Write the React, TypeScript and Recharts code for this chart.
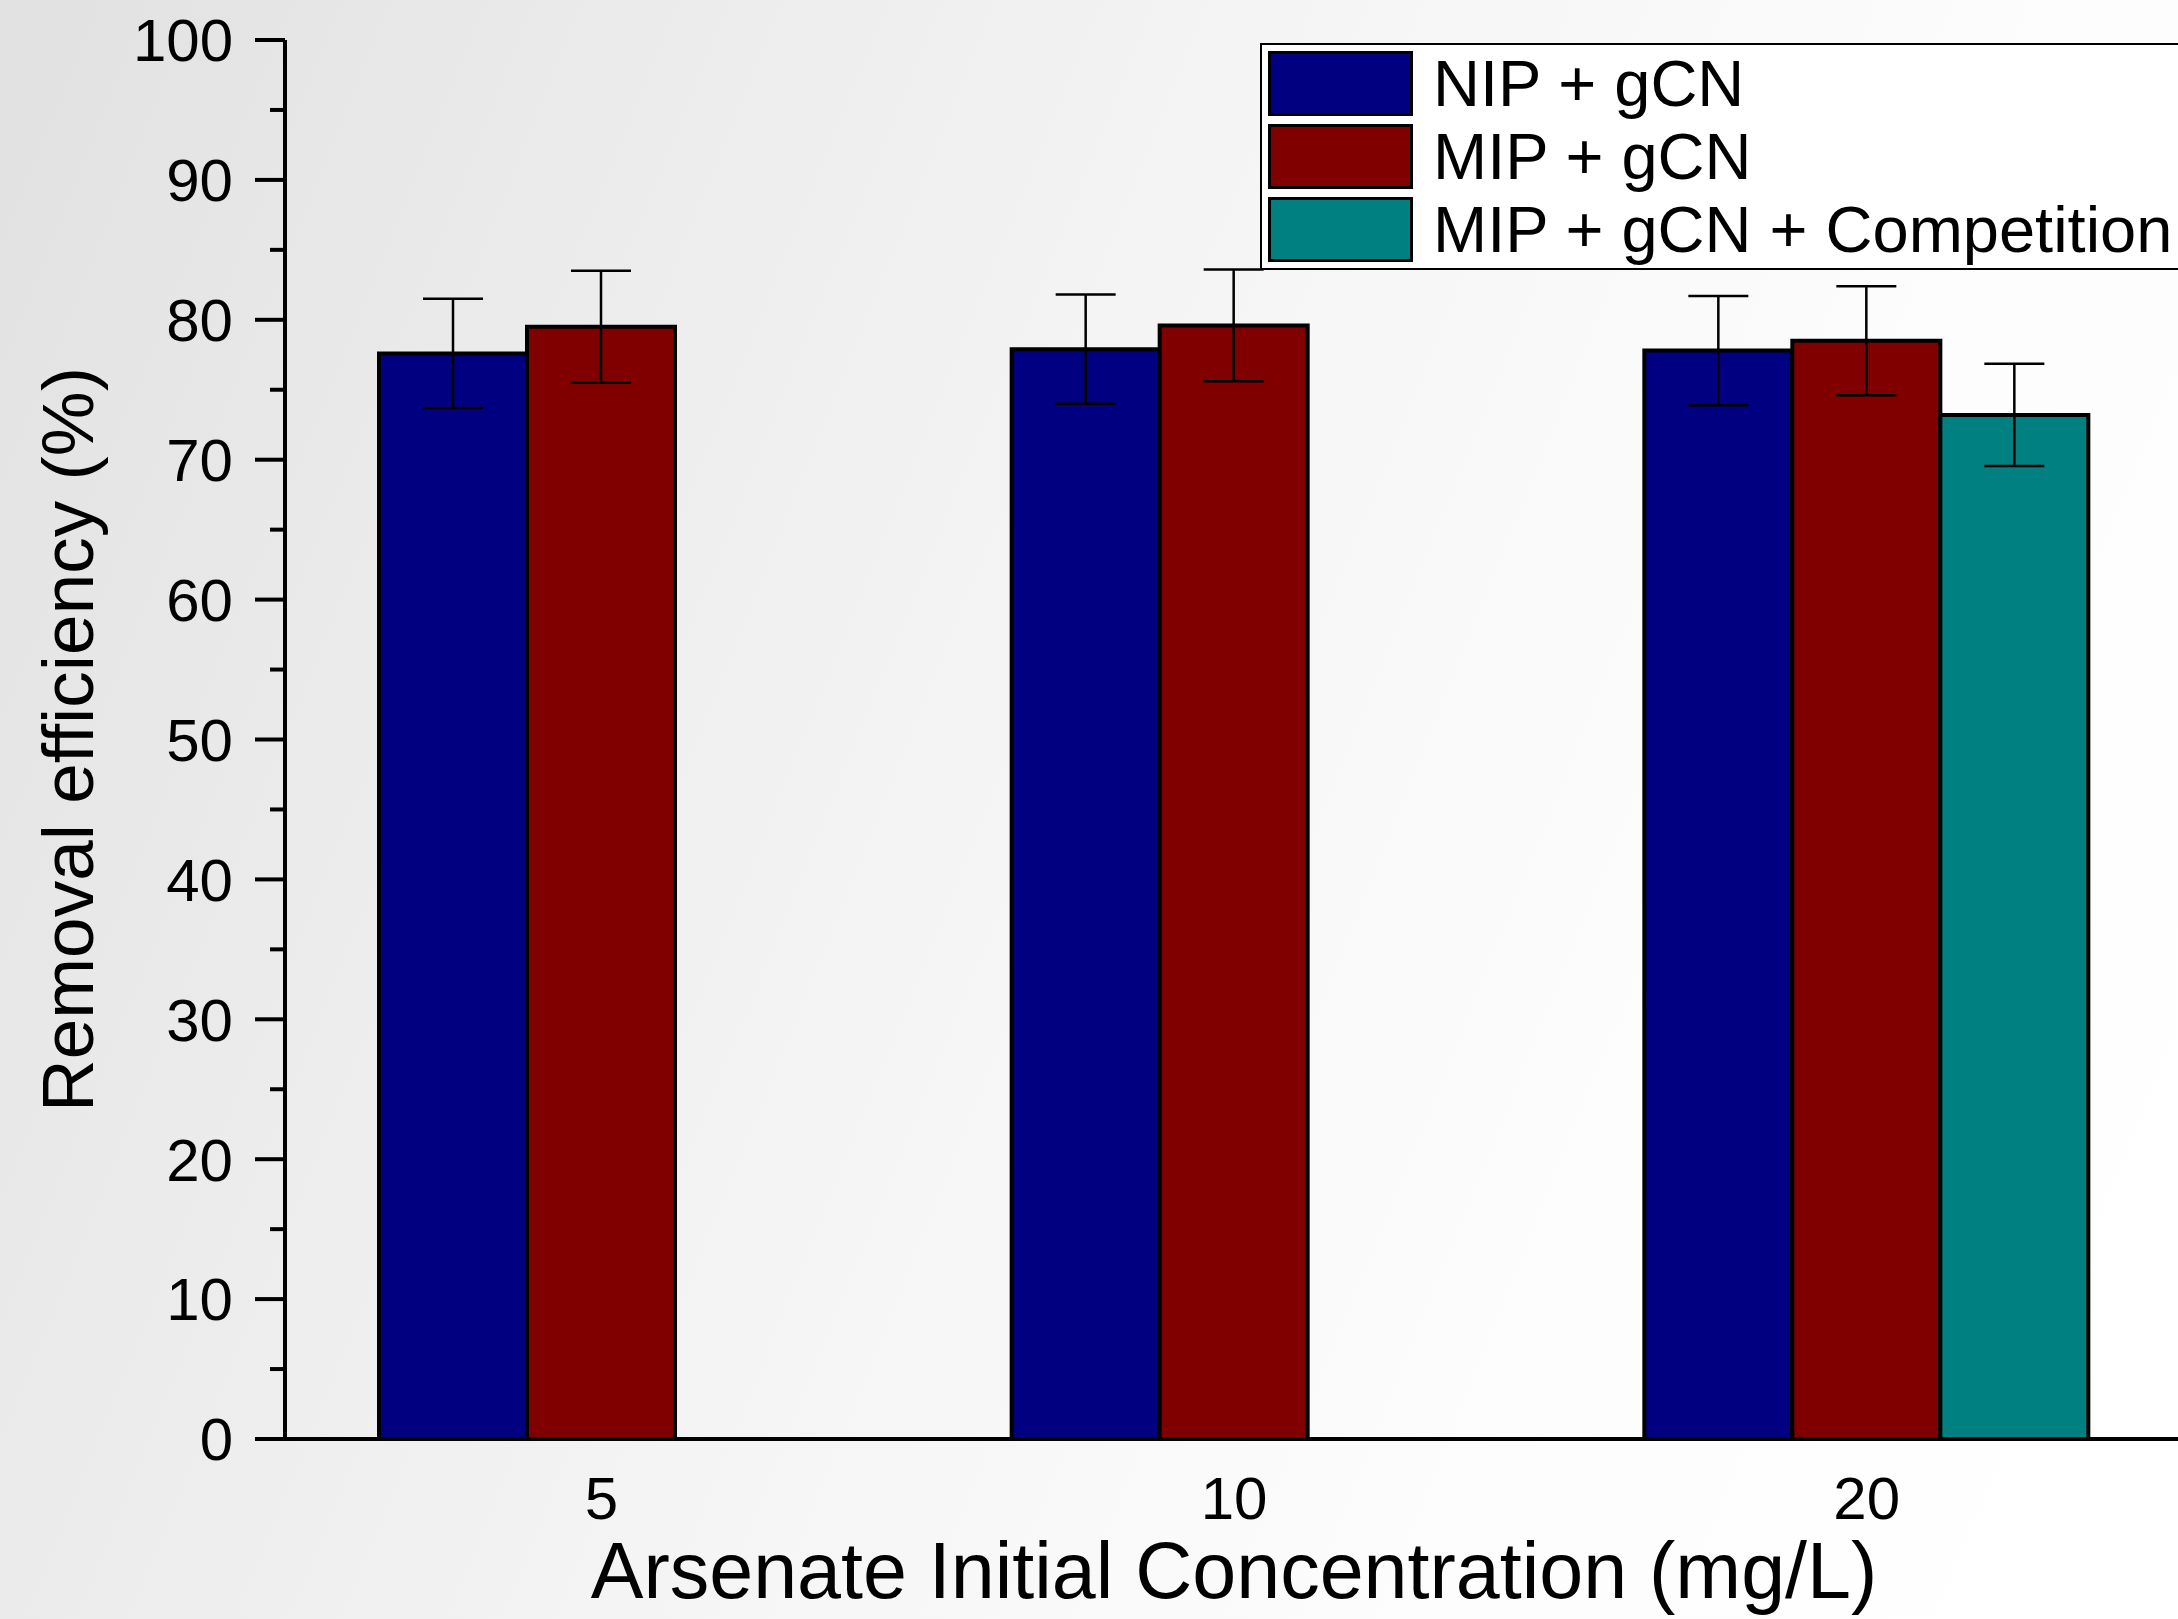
import React from 'react';
import {
  BarChart,
  Bar,
  XAxis,
  YAxis,
  ErrorBar,
  Legend,
} from 'recharts';

const concentrations = ['5', '10', '20'];
const seriesNames = ['NIP + gCN', 'MIP + gCN', 'MIP + gCN + Competition'];
const nipGcn = [77.6, 77.9, 77.8];
const nipGcnErr = [3.9, 3.9, 3.9];
const mipGcn = [79.5, 79.6, 78.5];
const mipGcnErr = [4.0, 4.0, 3.9];
const mipGcnComp = [null, null, 73.2];
const mipGcnCompErr = [null, null, 3.65];

const yTicks = [0, 5, 10, 15, 20, 25, 30, 35, 40, 45, 50, 55, 60, 65, 70, 75, 80, 85, 90, 95, 100];

const FONT = '"Liberation Sans", Arial, Helvetica, sans-serif';
const TICK_SIZE = 30;
const TICK_MARGIN = 22;

const data = concentrations.map((c, i) => ({
  conc: c,
  nip: nipGcn[i],
  nipErr: nipGcnErr[i],
  mip: mipGcn[i],
  mipErr: mipGcnErr[i],
  comp: mipGcnComp[i],
  compErr: mipGcnCompErr[i],
}));

function YTick(props: any) {
  const { x, y, payload } = props;
  const v = payload.value;
  const major = v % 10 === 0;
  const axisX = x + TICK_SIZE + TICK_MARGIN;
  return (
    <g>
      <line
        x1={axisX - (major ? TICK_SIZE : 15)}
        x2={axisX}
        y1={y}
        y2={y}
        stroke='#000'
        strokeWidth={4}
      />
      {major && (
        <text
          x={x}
          y={y}
          dy='0.355em'
          textAnchor='end'
          fill='#000'
          fontSize={60}
          fontFamily={FONT}
        >
          {v}
        </text>
      )}
    </g>
  );
}

function LegendBox(props: any) {
  // keep the series order, not the alphabetical one
  const items = [...(props.payload || [])].sort(
    (a: any, b: any) => seriesNames.indexOf(a.value) - seriesNames.indexOf(b.value)
  );
  return (
    <div
      style={{
        width: 950,
        height: 227,
        background: '#fff',
        border: '2px solid #000',
        boxSizing: 'border-box',
        paddingTop: 6,
        paddingLeft: 6,
      }}
    >
      {items.map((p: any) => (
        <div
          key={p.value}
          style={{
            display: 'flex',
            alignItems: 'center',
            height: 65,
            marginBottom: 8,
          }}
        >
          <div
            style={{
              width: 145,
              height: 65,
              background: p.color,
              border: '3px solid #000',
              boxSizing: 'border-box',
            }}
          />
          <span
            style={{
              marginLeft: 20,
              fontSize: 65,
              fontFamily: FONT,
              color: '#000',
              lineHeight: '65px',
              whiteSpace: 'nowrap',
            }}
          >
            {p.value}
          </span>
        </div>
      ))}
    </div>
  );
}

export default function App() {
  return (
    <div
      style={{
        position: 'absolute',
        left: 0,
        top: 0,
        width: 2178,
        height: 1619,
        overflow: 'hidden',
        background:
          'linear-gradient(112deg, #e1e1e1 0%, #ececec 25%, #f6f6f6 50%, #fdfdfd 75%, #ffffff 100%)',
      }}
    >
      <BarChart
        width={2200}
        height={1619}
        data={data}
        margin={{ top: 40, right: 17, left: 0, bottom: 0 }}
        barSize={148}
        barGap={0}
      >
        <XAxis
          dataKey='conc'
          height={180}
          axisLine={{ stroke: '#000', strokeWidth: 4 }}
          tickLine={false}
          tickSize={0}
          tickMargin={37}
          tick={{ fill: '#000', fontSize: 60, fontFamily: FONT }}
          label={{
            value: 'Arsenate Initial Concentration (mg/L)',
            position: 'insideBottom',
            offset: 21,
            fill: '#000',
            fontSize: 79,
            fontFamily: FONT,
          }}
        />
        <XAxis
          xAxisId='top'
          dataKey='conc'
          orientation='top'
          height={0}
          axisLine={{ stroke: '#000', strokeWidth: 4 }}
          tickLine={false}
          tick={false}
        />
        <YAxis
          width={285}
          domain={[0, 100]}
          ticks={yTicks}
          interval={0}
          allowDataOverflow
          axisLine={{ stroke: '#000', strokeWidth: 4 }}
          tickLine={false}
          tickSize={TICK_SIZE}
          tickMargin={TICK_MARGIN}
          tick={<YTick />}
          label={{
            value: 'Removal efficiency (%)',
            angle: -90,
            position: 'insideLeft',
            offset: 67,
            fill: '#000',
            fontSize: 73,
            fontFamily: FONT,
            style: { textAnchor: 'middle' },
          }}
        />
        <Legend
          layout='vertical'
          align='center'
          verticalAlign='middle'
          content={<LegendBox />}
          wrapperStyle={{ left: 1260, top: 43, width: 950, height: 227 }}
        />
        <Bar
          dataKey='nip'
          name={seriesNames[0]}
          fill='#000080'
          stroke='#000'
          strokeWidth={4}
          isAnimationActive={false}
        >
          <ErrorBar dataKey='nipErr' width={30} stroke='#000' strokeWidth={2.5} />
        </Bar>
        <Bar
          dataKey='mip'
          name={seriesNames[1]}
          fill='#800000'
          stroke='#000'
          strokeWidth={4}
          isAnimationActive={false}
        >
          <ErrorBar dataKey='mipErr' width={30} stroke='#000' strokeWidth={2.5} />
        </Bar>
        <Bar
          dataKey='comp'
          name={seriesNames[2]}
          fill='#008080'
          stroke='#000'
          strokeWidth={4}
          isAnimationActive={false}
        >
          <ErrorBar dataKey='compErr' width={30} stroke='#000' strokeWidth={2.5} />
        </Bar>
      </BarChart>
    </div>
  );
}
